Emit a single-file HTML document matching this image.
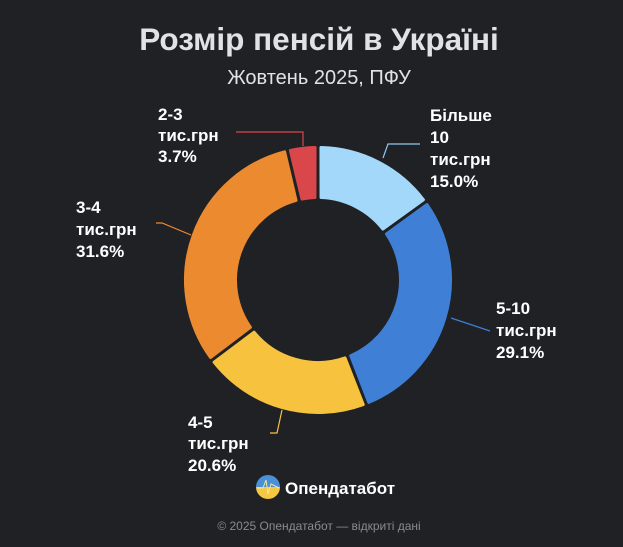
<!DOCTYPE html>
<html><head><meta charset="utf-8"><style>
html,body{margin:0;padding:0;background:#1f2125;}
body{width:623px;height:547px;overflow:hidden;font-family:"Liberation Sans",sans-serif;}
</style></head><body>
<svg id="s" width="623" height="547" xmlns="http://www.w3.org/2000/svg" style="position:absolute;left:0;top:0">
<rect width="623" height="547" fill="#1f2125"/>
<text x="319" y="50" text-anchor="middle" font-size="31.5" font-weight="bold" fill="#e2e2e4" font-family="Liberation Sans, sans-serif">Розмір пенсій в Україні</text>
<text x="319" y="84" text-anchor="middle" font-size="20" fill="#e2e2e4" font-family="Liberation Sans, sans-serif">Жовтень 2025, ПФУ</text>
<g id="arcs"></g>
<g fill="none" stroke-width="1.2">
<polyline points="383,158 388,144 420,144" stroke="#8cc8ef"/>
<polyline points="303,146 303,132 236,132" stroke="#d9474b"/>
<polyline points="191,235 162,223 156,223" stroke="#ec8a30"/>
<polyline points="451,318 490,331" stroke="#3f7fd6"/>
<polyline points="282,410 277,433 270,433" stroke="#f7c33f"/>
</g>
<g font-size="17" font-weight="bold" fill="#ffffff" font-family="Liberation Sans, sans-serif">
<text x="430" y="121">Більше</text><text x="430" y="143">10</text><text x="430" y="165">тис.грн</text><text x="430" y="187">15.0%</text>
<text x="158" y="120">2-3</text><text x="158" y="141">тис.грн</text><text x="158" y="162">3.7%</text>
<text x="76" y="213">3-4</text><text x="76" y="235">тис.грн</text><text x="76" y="257">31.6%</text>
<text x="496" y="314">5-10</text><text x="496" y="336">тис.грн</text><text x="496" y="358">29.1%</text>
<text x="188" y="428">4-5</text><text x="188" y="449">тис.грн</text><text x="188" y="471">20.6%</text>
</g>
<defs><linearGradient id="lg" x1="0" y1="0" x2="0" y2="1"><stop offset="0.5" stop-color="#4a90d9"/><stop offset="0.5" stop-color="#f5c842"/></linearGradient></defs>
<circle cx="268" cy="487" r="12" fill="url(#lg)"/>
<polyline points="257,488 263,488 266,480 268,494 271,484 279,488" fill="none" stroke="#f5e6a0" stroke-width="1"/>
<text x="285" y="494" font-size="17" font-weight="bold" fill="#ffffff" font-family="Liberation Sans, sans-serif">Опендатабот</text>
<text x="319" y="530" text-anchor="middle" font-size="12" fill="#8a8b8f" font-family="Liberation Sans, sans-serif">© 2025 Опендатабот — відкриті дані</text>
</svg>
<script>
var cx=318,cy=280,R=134,r=81;
var data=[[15.0,"#a3d8fb"],[29.1,"#3f7fd6"],[20.6,"#f7c33f"],[31.6,"#ec8a30"],[3.7,"#d9474b"]];
var a=0,g=document.getElementById("arcs"),html="";
function pt(rad,ang){return [cx+rad*Math.sin(ang),cy-rad*Math.cos(ang)];}
data.forEach(function(d){
 var a0=a/100*2*Math.PI,a1=(a+d[0])/100*2*Math.PI;a+=d[0];
 var pad=3;
 var o0=a0+pad/R,o1=a1-pad/R,i0=a0+pad/r,i1=a1-pad/r;
 var p1=pt(R-1.5,o0),p2=pt(R-1.5,o1),p3=pt(r+1.5,i1),p4=pt(r+1.5,i0);
 var lg=(a1-a0)>Math.PI?1:0;
 var dd="M"+p1+" A"+(R-1.5)+","+(R-1.5)+" 0 "+lg+" 1 "+p2+" L"+p3+" A"+(r+1.5)+","+(r+1.5)+" 0 "+lg+" 0 "+p4+" Z";
 html+='<path d="'+dd+'" fill="'+d[1]+'" stroke="'+d[1]+'" stroke-width="3" stroke-linejoin="round"/>';
});
g.innerHTML=html;
</script>
</body></html>
